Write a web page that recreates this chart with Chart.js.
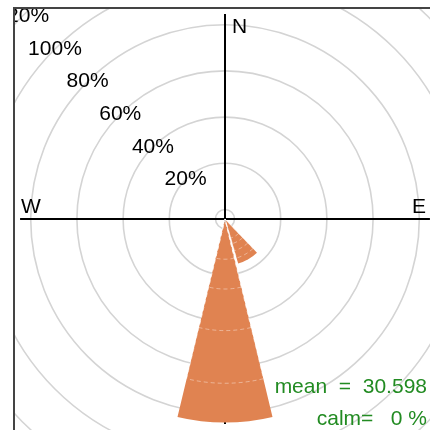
<!DOCTYPE html>
<html>
<head>
<meta charset="utf-8">
<script src="https://cdn.jsdelivr.net/npm/chart.js@4.4.1/dist/chart.umd.min.js"></script>
<style>
  html, body { margin: 0; padding: 0; background: #fff; overflow: hidden; }
  body { width: 430px; height: 430px; position: relative; font-family: "Liberation Sans", Arial, sans-serif; }
  #frame { position: absolute; left: 13px; top: 7px; width: 520px; height: 520px; border-left: 2px solid #444; border-top: 2px solid #444; overflow: hidden; }
  #rose { position: absolute; left: -90px; top: -90px; }
  .stat { position: absolute; right: 3px; font-size: 21px; line-height: 21px; color: #228B22; white-space: pre; }
</style>
</head>
<body>
<div id="frame"><canvas id="rose" width="600" height="600"></canvas></div>
<div class="stat" style="top:375px">mean  =  30.598</div>
<div class="stat" style="top:407px">calm=   0 %</div>
<script>
// 30 degree direction sectors, clockwise from north
const directions = ['N', '30', '60', 'E', '120', '150', 'S', '210', '240', 'W', '300', '330'];
// frequency (%) in each speed bin, innermost bin first
const bin1 = [0, 0, 0, 0, 0, 4.5, 13.3, 0, 0, 0, 0, 0];
const bin2 = [0, 0, 0, 0, 0, 2.5, 12.9, 0, 0, 0, 0, 0];
const bin3 = [0, 0, 0, 0, 0, 3.2, 18.0, 0, 0, 0, 0, 0];
const bin4 = [0, 0, 0, 0, 0, 3.3, 22.8, 0, 0, 0, 0, 0];
const bin5 = [0, 0, 0, 0, 0, 2.5, 17.0, 0, 0, 0, 0, 0];
const ringTicks = [0, 20, 40, 60, 80, 100, 120];
const axisLength = 84.6;

const petalColor = 'rgb(224, 131, 81)';
const clear = 'rgba(0,0,0,0)';
const petalAngle = 27;  // each sector is 30 deg, 3 deg left blank between petals

// stack the bins so each dataset is the cumulative frequency,
// with an empty slice after every petal to leave the gap
let running = directions.map(() => 0);
const stacked = [bin1, bin2, bin3, bin4, bin5].map(function (bin) {
    running = running.map((v, i) => v + bin[i]);
    return running.flatMap(v => [v, 0]);
});
const sliceLabels = directions.flatMap(d => [d, '']);
const sliceAngles = directions.flatMap(() => [petalAngle, 30 - petalAngle]);
const last = stacked.length - 1;

const datasets = stacked.map(function (vals, k) {
    if (k === last) {
        return {
            data: vals,
            angle: sliceAngles,
            backgroundColor: c => c.raw > 0 ? petalColor : clear,
            borderWidth: 0
        };
    }
    return {
        data: vals,
        angle: sliceAngles,
        backgroundColor: clear,
        borderColor: 'rgba(255,255,255,0.4)',
        borderWidth: c => c.raw > 0 ? 1 : 0,
        borderDash: [4, 3]
    };
});

const roseDecor = {
    id: 'roseDecor',
    beforeDatasetsDraw(chart) {
        const s = chart.scales.r;
        const ctx = chart.ctx;
        const L = s.getDistanceFromCenterForValue(axisLength);
        ctx.save();
        ctx.strokeStyle = '#000';
        ctx.lineWidth = 2;
        ctx.beginPath();
        ctx.moveTo(s.xCenter - L, s.yCenter);
        ctx.lineTo(s.xCenter + L, s.yCenter);
        ctx.moveTo(s.xCenter, s.yCenter - L);
        ctx.lineTo(s.xCenter, s.yCenter + L);
        ctx.stroke();
        ctx.restore();
    },
    afterDraw(chart) {
        const s = chart.scales.r;
        const ctx = chart.ctx;
        ctx.save();
        ctx.fillStyle = '#000';
        ctx.font = '21px "Liberation Sans", Arial, sans-serif';
        // percentage labels along the north-west diagonal
        ctx.textAlign = 'center';
        ctx.textBaseline = 'middle';
        const a = 315 * Math.PI / 180;
        ringTicks.slice(1).forEach(function (v) {
            const d = s.getDistanceFromCenterForValue(v);
            ctx.fillText(v + '%', s.xCenter + d * Math.sin(a), s.yCenter - d * Math.cos(a));
        });
        // compass letters
        ctx.textBaseline = 'alphabetic';
        ctx.textAlign = 'left';
        ctx.fillText('N', s.xCenter + 7, s.yCenter - 186);
        ctx.fillText('W', s.xCenter - 204, s.yCenter - 6);
        ctx.textAlign = 'right';
        ctx.fillText('E', s.xCenter + 201, s.yCenter - 6);
        ctx.restore();
    }
};

const roseChart = new Chart(document.getElementById('rose').getContext('2d'), {
    type: 'polarArea',
    data: { labels: sliceLabels, datasets: datasets },
    options: {
        responsive: false,
        animation: false,
        layout: { padding: 0 },
        plugins: { legend: { display: false }, tooltip: { enabled: false } },
        scales: {
            r: {
                startAngle: -petalAngle / 2,
                min: -4.11,
                max: 125.76,
                afterBuildTicks: function (scale) {
                    scale.ticks = [scale.min].concat(ringTicks).map(v => ({ value: v }));
                },
                ticks: { display: false },
                pointLabels: { display: false },
                angleLines: { display: false },
                grid: { circular: true, color: '#d4d4d4', lineWidth: 1.6 }
            }
        }
    },
    plugins: [roseDecor]
});
</script>
</body>
</html>
